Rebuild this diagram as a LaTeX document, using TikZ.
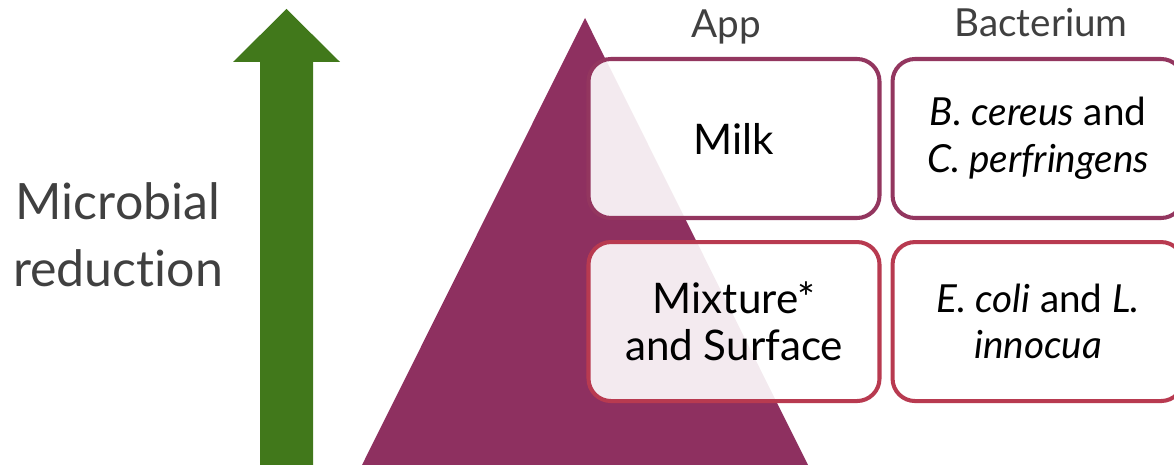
\documentclass[tikz,border=0pt]{standalone}
\usepackage{fontspec}
\setmainfont{Lato}[Ligatures={NoCommon,NoRequired,NoContextual}]
\usetikzlibrary{positioning}
\definecolor{leafgreen}{HTML}{41781B}
\definecolor{plum}{HTML}{8E3060}
\definecolor{plumline}{HTML}{93365F}
\definecolor{roseline}{HTML}{B83A50}
\definecolor{headgray}{HTML}{404040}
\tikzset{
	cell/.style={draw, line width=2.3pt, rounded corners=0.45cm, fill=white,
		fill opacity=0.9, text opacity=1, minimum width=5.82cm,
		minimum height=3.18cm, align=center, font=\fontsize{24}{27}\selectfont},
	head/.style={anchor=base, text=headgray, font=\fontsize{22}{26}\selectfont},
}

\begin{document}
\begin{tikzpicture}
	\useasboundingbox (0, 0) rectangle (23.48, 9.3);
	% reduction arrow
	\fill[leafgreen] (5.2, 0) -- (5.2, 8.06) -- (4.66, 8.06) -- (5.73, 9.12)
		-- (6.8, 8.06) -- (6.26, 8.06) -- (6.26, 0) -- cycle;
	\node[align=center, text=headgray, font=\fontsize{28.5}{38}\selectfont] (label) at (2.36, 4.6) {Microbial\\reduction};
	% pyramid
	\fill[plum] (7.24, 0) -- (11.7, 8.94) -- (16.16, 0) -- cycle;
	% table of boxes
	\node[cell, draw=plumline] (milk) at (14.68, 6.53) {Milk};
	\node[cell, draw=plumline, right=0.18cm of milk, font=\fontsize{22}{26.5}\selectfont] (bc) {\textit{B. cereus} and\\\textit{C. perfringens}};
	\node[cell, draw=roseline, below=0.4cm of milk] (mix) {Mixture*\\and Surface};
	\node[cell, draw=roseline, right=0.18cm of mix, font=\fontsize{22}{26.5}\selectfont] (ec) {\textit{E. coli} and \textit{L.}\\\textit{innocua}};
	\node[head] (app) at (14.52, 8.54) {App};
	\node[head] (bact) at (20.82, 8.56) {Bacterium};
\end{tikzpicture}
\end{document}
